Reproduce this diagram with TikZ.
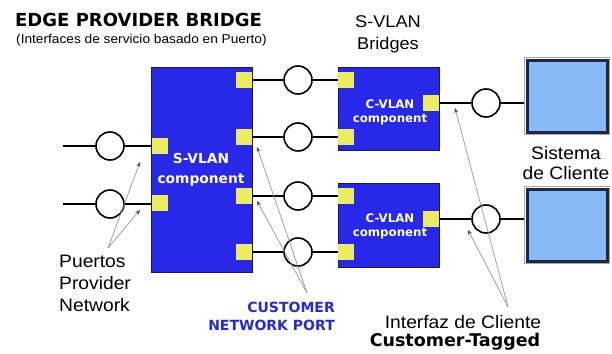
\documentclass[tikz,border=0pt]{standalone}
\usepackage{fontspec}
\setmainfont{Liberation Sans}[FakeStretch=1.07]
\newfontfamily\vbold{DejaVu Sans}[BoldFont={DejaVu Sans Bold}]
\usetikzlibrary{arrows.meta}
\definecolor{boxblue}{RGB}{40,40,232}
\definecolor{boxedge}{RGB}{25,25,90}
\definecolor{portyel}{RGB}{236,236,96}
\definecolor{clientfill}{RGB}{135,186,246}
\definecolor{clientedge}{RGB}{30,40,70}
\definecolor{labelblue}{RGB}{40,40,215}
\definecolor{pointer}{RGB}{150,150,150}
\tikzset{
  vlanbox/.style={draw=boxedge, line width=1pt, fill=boxblue, inner sep=0pt},
  portsq/.style={fill=portyel, draw=none, minimum width=15.5pt, minimum height=15.5pt, inner sep=0pt},
  linkcirc/.style={circle, draw=black, line width=1.6pt, fill=white, minimum size=28pt, inner sep=0pt},
  clientbox/.style={draw=clientedge, line width=3pt, fill=clientfill, inner sep=0pt},
  clientrim/.style={draw=black!35, line width=1pt, inner sep=0pt},
  wire/.style={line width=1.8pt, draw=black},
  pointerline/.style={draw=pointer, line width=0.7pt, -{Stealth[length=5pt,width=4pt,color=black!70]}},
  vlantext/.style={text=white, font=\vbold\bfseries, align=center},
  plain/.style={font=\fontsize{18}{22}\selectfont, align=left, inner sep=0pt},
}
\begin{document}
\begin{tikzpicture}[x=1pt,y=-1pt]
\useasboundingbox (0,0) rectangle (612,353);
\fill[white] (0,0) rectangle (612,353);

% Title
\node[anchor=west, inner sep=0pt, font=\vbold\bfseries\fontsize{18}{20}\selectfont] (title) at (15,20) {EDGE PROVIDER BRIDGE};
\node[anchor=west, inner sep=0pt, font=\fontsize{12.8}{14}\selectfont] (subtitle) at (16,40) {(Interfaces de servicio basado en Puerto)};

% S-VLAN component
\node[vlanbox, minimum width=101pt, minimum height=205pt] (svlan) at (201.5,169.5) {};
\node[vlantext, font=\vbold\bfseries\fontsize{13.8}{20}\selectfont] (svlanlbl) at (201,170) {S-VLAN\\component};

\node[portsq] (sR1) at (244,80) {};
\node[portsq] (sR2) at (244,137) {};
\node[portsq] (sR3) at (244,196) {};
\node[portsq] (sR4) at (244,252) {};
\node[portsq] (sL1) at (160,146) {};
\node[portsq] (sL2) at (160,203) {};

% C-VLAN components
\node[vlanbox, minimum width=101pt, minimum height=83pt] (cvlan1) at (388.5,108.5) {};
\node[vlanbox, minimum width=101pt, minimum height=84pt] (cvlan2) at (388.5,225) {};
\node[vlantext, font=\vbold\bfseries\fontsize{11.8}{14}\selectfont] (cv1lbl) at (390,112) {C-VLAN\\component};
\node[vlantext, font=\vbold\bfseries\fontsize{11.8}{14}\selectfont] (cv2lbl) at (390,226) {C-VLAN\\component};

\node[portsq] (c1L1) at (346,80) {};
\node[portsq] (c1L2) at (346,137) {};
\node[portsq] (c1R) at (431,103) {};
\node[portsq] (c2L1) at (346,196) {};
\node[portsq] (c2L2) at (346,252) {};
\node[portsq] (c2R) at (431,219) {};

% Client systems
\node[clientrim, minimum width=85pt, minimum height=77pt] (cl1out) at (567,96) {};
\node[clientbox, minimum width=80pt, minimum height=72pt] (client1) at (567,96) {};
\node[clientrim, minimum width=85pt, minimum height=77pt] (cl2out) at (567,225) {};
\node[clientbox, minimum width=80pt, minimum height=72pt] (client2) at (567,225) {};

% Circles
\node[linkcirc] (cL1) at (110,146) {};
\node[linkcirc] (cL2) at (110,204) {};
\node[linkcirc] (cM1) at (298,80) {};
\node[linkcirc] (cM2) at (298,137) {};
\node[linkcirc] (cM3) at (298,196) {};
\node[linkcirc] (cM4) at (298,252) {};
\node[linkcirc] (cR1) at (486,103) {};
\node[linkcirc] (cR2) at (486,219) {};

% Wires
\coordinate (in1) at (63,146);
\coordinate (in2) at (63,204);
\draw[wire] (in1) -- (cL1);
\draw[wire] (cL1) -- (sL1.west |- cL1);
\draw[wire] (in2) -- (cL2);
\draw[wire] (cL2) -- (sL2.west |- cL2);
\draw[wire] (sR1.east) -- (cM1);
\draw[wire] (cM1) -- (c1L1.west);
\draw[wire] (sR2.east) -- (cM2);
\draw[wire] (cM2) -- (c1L2.west);
\draw[wire] (sR3.east) -- (cM3);
\draw[wire] (cM3) -- (c2L1.west);
\draw[wire] (sR4.east) -- (cM4);
\draw[wire] (cM4) -- (c2L2.west);
\draw[wire] (c1R.east) -- (cR1);
\draw[wire] (cR1) -- (cl1out.west |- cR1);
\draw[wire] (c2R.east) -- (cR2);
\draw[wire] (cR2) -- (cl2out.west |- cR2);

% Labels
\node[font=\fontsize{17}{22}\selectfont, align=center, inner sep=0pt] (sbridges) at (388,34) {S-VLAN\\Bridges};
\node[font=\fontsize{18}{20}\selectfont, align=center, inner sep=0pt] (sistema) at (566,163) {Sistema\\de Cliente};
\node[plain, anchor=north west] (puertos) at (59,255) {Puertos\\Provider\\Network};
\node[font=\vbold\bfseries\fontsize{14}{18}\selectfont, text=labelblue, align=right, inner sep=0pt, anchor=east] (cnp) at (335,316) {CUSTOMER\\NETWORK PORT};
\node[font=\fontsize{18}{22}\selectfont, inner sep=0pt] (interfaz) at (463,322) {Interfaz de Cliente};
\node[font=\vbold\bfseries\fontsize{17.5}{20}\selectfont, inner sep=0pt] (custtag) at (455,342) {Customer-Tagged};

% Pointers
\coordinate (pp) at (108,248);
\coordinate (ppa) at (140,162);
\coordinate (ppb) at (140,210);
\coordinate (cn) at (307,293);
\coordinate (cna) at (257,147);
\coordinate (cnb) at (257,201);
\coordinate (ic) at (508,307);
\coordinate (ica) at (455,108);
\coordinate (icb) at (468,230);
\draw[pointerline] (pp) -- (ppa);
\draw[pointerline] (pp) -- (ppb);
\draw[pointerline] (cn) -- (cna);
\draw[pointerline] (cn) -- (cnb);
\draw[pointerline] (ic) -- (ica);
\draw[pointerline] (ic) -- (icb);
\end{tikzpicture}
\end{document}
